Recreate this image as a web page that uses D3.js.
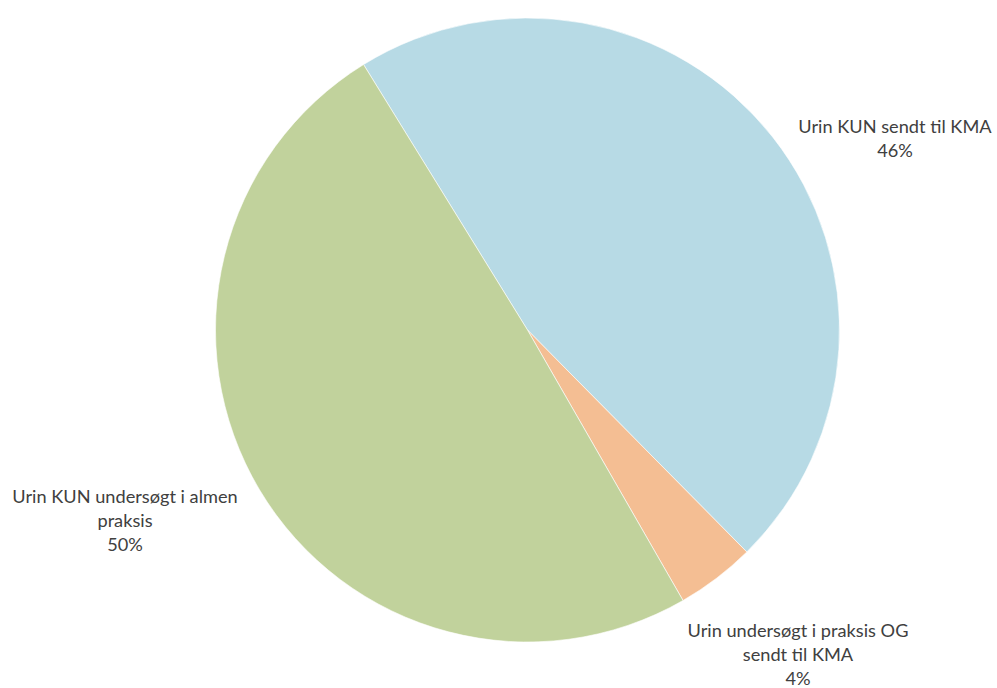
<!DOCTYPE html>
<html>
<head>
<meta charset="utf-8">
<script src="https://cdn.jsdelivr.net/npm/d3@7"></script>
<style>
  html, body { margin: 0; padding: 0; background: #fff; }
  svg text { font-family: Lato, "Liberation Sans", sans-serif; fill: #404040; }
</style>
</head>
<body>
<svg id="chart" width="997" height="688"></svg>
<script>
// Slice names (each line of the label is a separate entry)
const categories = [
  ["Urin KUN sendt til KMA"],
  ["Urin undersøgt i praksis OG", "sendt til KMA"],
  ["Urin KUN undersøgt i almen", "praksis"]
];
// Shares in percent
const shares = [46.4, 4.1, 49.5];
const colors = ["#B7DAE5", "#F4BE93", "#C1D29C"];
// Label anchor positions (centre of first text line)
const labelPos = [[895, 127], [798, 631], [125, 497]];

const svg = d3.select("#chart");
const cx = 527.5, cy = 330, r = 312;

const pie = d3.pie()
  .sort(null)
  .value(d => d)
  .startAngle(-31.7 * Math.PI / 180)
  .endAngle(-31.7 * Math.PI / 180 + 2 * Math.PI);

const arc = d3.arc().innerRadius(0).outerRadius(r);

const g = svg.append("g").attr("transform", `translate(${cx},${cy})`);
g.selectAll("path")
  .data(pie(shares))
  .join("path")
  .attr("d", arc)
  .attr("fill", (d, i) => colors[i])
  .attr("stroke", "#fff")
  .attr("stroke-width", 0.6);

const lineH = 24;
const labels = svg.selectAll("text.lbl")
  .data(categories)
  .join("text")
  .attr("class", "lbl")
  .attr("text-anchor", "middle")
  .attr("font-size", 18.2)
  .attr("x", (d, i) => labelPos[i][0])
  .attr("y", (d, i) => labelPos[i][1]);

labels.each(function(lines, i) {
  const t = d3.select(this);
  const all = lines.concat([Math.round(shares[i]) + "%"]);
  all.forEach((s, k) => {
    t.append("tspan")
      .attr("x", labelPos[i][0])
      .attr("dy", k === 0 ? "0.35em" : lineH)
      .text(s);
  });
});
</script>
</body>
</html>
